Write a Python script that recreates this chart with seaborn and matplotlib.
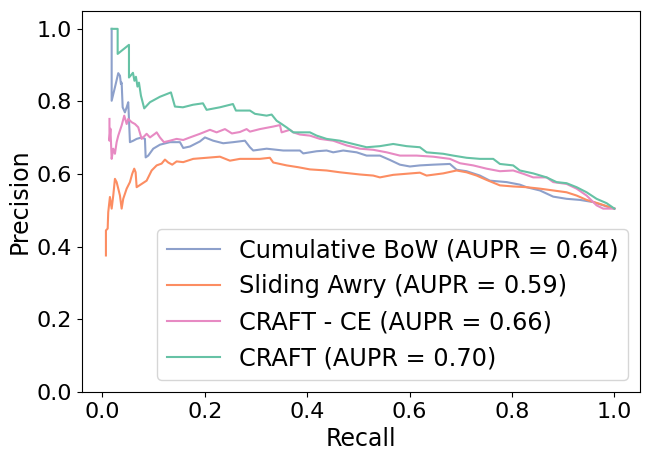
import pandas as pd
import seaborn as sns
import matplotlib.pyplot as plt

# Precision-recall curves, values
bow_recall = [0.018, 0.018, 0.0244, 0.0309, 0.0342, 0.0361, 0.0375, 0.0395, 0.0439, 0.0473, 0.0504,
              0.0537, 0.0602, 0.0668, 0.0766, 0.0830, 0.0844, 0.0895, 0.0992, 0.1123, 0.1318, 0.1514,
              0.1578, 0.1709, 0.1904, 0.2002, 0.2164, 0.2359, 0.2555, 0.2783, 0.2881, 0.2945, 0.3207,
              0.3531, 0.3857, 0.3922, 0.4184, 0.4379, 0.4508, 0.4703, 0.4965, 0.5160, 0.5420, 0.5615,
              0.5811, 0.6006, 0.6201, 0.6461, 0.6787, 0.6918, 0.7113, 0.7373, 0.7568, 0.7895, 0.8154,
              0.8285, 0.8545, 0.8805, 0.9066, 0.9326, 0.9586, 0.9848, 1.0]
bow_precision = [1.000, 0.802, 0.839, 0.878, 0.871, 0.848, 0.852, 0.784, 0.770, 0.784, 0.798,
                 0.688, 0.692, 0.697, 0.701, 0.697, 0.646, 0.651, 0.670, 0.681, 0.688, 0.688,
                 0.672, 0.676, 0.690, 0.701, 0.692, 0.685, 0.688, 0.692, 0.674, 0.665, 0.670,
                 0.665, 0.665, 0.657, 0.663, 0.665, 0.660, 0.665, 0.660, 0.651, 0.651, 0.639,
                 0.626, 0.621, 0.624, 0.626, 0.628, 0.612, 0.608, 0.596, 0.582, 0.578, 0.571,
                 0.564, 0.555, 0.538, 0.532, 0.529, 0.523, 0.511, 0.505]

sliding_recall = [0.0068, 0.0068, 0.0102, 0.0113, 0.0146, 0.0180, 0.0211, 0.0244, 0.0277, 0.0309, 0.0342,
                  0.0375, 0.0406, 0.0473, 0.0537, 0.0582, 0.0621, 0.0648, 0.0668, 0.0766, 0.0863, 0.0961,
                  0.1059, 0.1156, 0.1221, 0.1285, 0.1363, 0.1449, 0.1578, 0.1773, 0.2035, 0.2295, 0.2490,
                  0.2686, 0.3076, 0.3271, 0.3336, 0.3598, 0.3824, 0.4053, 0.4379, 0.4639, 0.5029, 0.5289,
                  0.5420, 0.5680, 0.5941, 0.6201, 0.6332, 0.6656, 0.6918, 0.7113, 0.7309, 0.7504, 0.7764,
                  0.8023, 0.8285, 0.8545, 0.8805, 0.9066, 0.9262, 0.9457, 0.9717, 1.0]
sliding_precision = [0.376, 0.445, 0.450, 0.495, 0.537, 0.505, 0.541, 0.587, 0.578, 0.560, 0.541,
                     0.505, 0.532, 0.560, 0.578, 0.601, 0.615, 0.605, 0.564, 0.573, 0.582, 0.610,
                     0.624, 0.629, 0.640, 0.632, 0.626, 0.635, 0.633, 0.642, 0.645, 0.648, 0.637,
                     0.642, 0.642, 0.645, 0.632, 0.624, 0.619, 0.613, 0.610, 0.605, 0.599, 0.596,
                     0.591, 0.598, 0.601, 0.604, 0.596, 0.602, 0.610, 0.605, 0.596, 0.584, 0.569,
                     0.566, 0.564, 0.560, 0.555, 0.550, 0.541, 0.529, 0.518, 0.505]

craft_ce_recall = [0.0137, 0.0137, 0.0156, 0.018, 0.0211, 0.0244, 0.0277, 0.0309, 0.0375, 0.0426, 0.0473,
                   0.0504, 0.0570, 0.0635, 0.0699, 0.0766, 0.0863, 0.0928, 0.1025, 0.1059, 0.1123, 0.1201,
                   0.1318, 0.1449, 0.1578, 0.1709, 0.1904, 0.2100, 0.2230, 0.2393, 0.2529, 0.2686, 0.2816,
                   0.2881, 0.3076, 0.3336, 0.3467, 0.3500, 0.3662, 0.3727, 0.3857, 0.4053, 0.4248, 0.4508,
                   0.4770, 0.5029, 0.5289, 0.5551, 0.5811, 0.6137, 0.6461, 0.6787, 0.6982, 0.7242, 0.7504,
                   0.7764, 0.8023, 0.8219, 0.8414, 0.8676, 0.8805, 0.9066, 0.9262, 0.9457, 0.9652, 0.9781, 1.0]
craft_ce_precision = [0.752, 0.692, 0.725, 0.642, 0.670, 0.656, 0.688, 0.706, 0.734, 0.761, 0.738,
                      0.752, 0.743, 0.738, 0.729, 0.697, 0.711, 0.701, 0.711, 0.715, 0.701, 0.688,
                      0.692, 0.697, 0.694, 0.701, 0.711, 0.722, 0.715, 0.724, 0.712, 0.716, 0.724,
                      0.717, 0.724, 0.731, 0.735, 0.715, 0.722, 0.715, 0.709, 0.706, 0.697, 0.692,
                      0.679, 0.670, 0.667, 0.660, 0.651, 0.651, 0.648, 0.642, 0.630, 0.624, 0.615,
                      0.608, 0.610, 0.601, 0.591, 0.591, 0.578, 0.573, 0.560, 0.541, 0.514, 0.505, 0.505]

craft_recall = [0.018, 0.0297, 0.0297, 0.0518, 0.0518, 0.0596, 0.0625, 0.0654, 0.0684, 0.0713, 0.0752,
                0.0816, 0.0928, 0.1123, 0.1338, 0.1416, 0.1572, 0.1768, 0.1963, 0.2035, 0.2295, 0.2549,
                0.2607, 0.2881, 0.2979, 0.3207, 0.3305, 0.3402, 0.3500, 0.3604, 0.3727, 0.4053, 0.4184,
                0.4379, 0.4639, 0.4898, 0.5160, 0.5420, 0.5680, 0.5941, 0.6201, 0.6332, 0.6656, 0.6852,
                0.7113, 0.7373, 0.7633, 0.7764, 0.8023, 0.8154, 0.8414, 0.8676, 0.8871, 0.9066, 0.9262,
                0.9457, 0.9652, 0.9848, 1.0]
craft_precision = [1.000, 1.000, 0.931, 0.956, 0.866, 0.879, 0.857, 0.868, 0.841, 0.852, 0.816,
                   0.781, 0.798, 0.813, 0.825, 0.786, 0.784, 0.791, 0.795, 0.777, 0.784, 0.793,
                   0.775, 0.775, 0.766, 0.761, 0.764, 0.747, 0.738, 0.728, 0.715, 0.715, 0.706,
                   0.697, 0.692, 0.683, 0.674, 0.677, 0.683, 0.677, 0.674, 0.660, 0.656, 0.651,
                   0.645, 0.642, 0.642, 0.628, 0.624, 0.610, 0.602, 0.591, 0.578, 0.575, 0.564,
                   0.550, 0.532, 0.520, 0.505]

labels = ['Cumulative BoW (AUPR = 0.64)', 'Sliding Awry (AUPR = 0.59)',
          'CRAFT - CE (AUPR = 0.66)', 'CRAFT (AUPR = 0.70)']

frames = []
for name, rec, prec in zip(labels,
                           [bow_recall, sliding_recall, craft_ce_recall, craft_recall],
                           [bow_precision, sliding_precision, craft_ce_precision, craft_precision]):
    frames.append(pd.DataFrame({'Recall': rec, 'Precision': prec, 'model': name}))
df = pd.concat(frames, ignore_index=True)

set2 = sns.color_palette('Set2')
palette = {labels[0]: set2[2], labels[1]: set2[1], labels[2]: set2[3], labels[3]: set2[0]}

fig = plt.figure(figsize=(6.49, 4.57), dpi=100)
ax = fig.add_axes([0.1263, 0.1422, 0.8598, 0.8344])
sns.lineplot(data=df, x='Recall', y='Precision', hue='model', palette=palette,
             estimator=None, sort=False, linewidth=1.5, ax=ax)

ax.set_xlim(-0.04, 1.05)
ax.set_ylim(0, 1.05)
ax.set_xticks([0.0, 0.2, 0.4, 0.6, 0.8, 1.0])
ax.set_yticks([0.0, 0.2, 0.4, 0.6, 0.8, 1.0])
ax.tick_params(labelsize=16)
ax.set_xlabel('Recall', fontsize=17)
ax.set_ylabel('Precision', fontsize=17)
ax.legend(title=None, loc='lower right', fontsize=17.3, handlelength=2.2)

plt.savefig('out.png', dpi=100)
